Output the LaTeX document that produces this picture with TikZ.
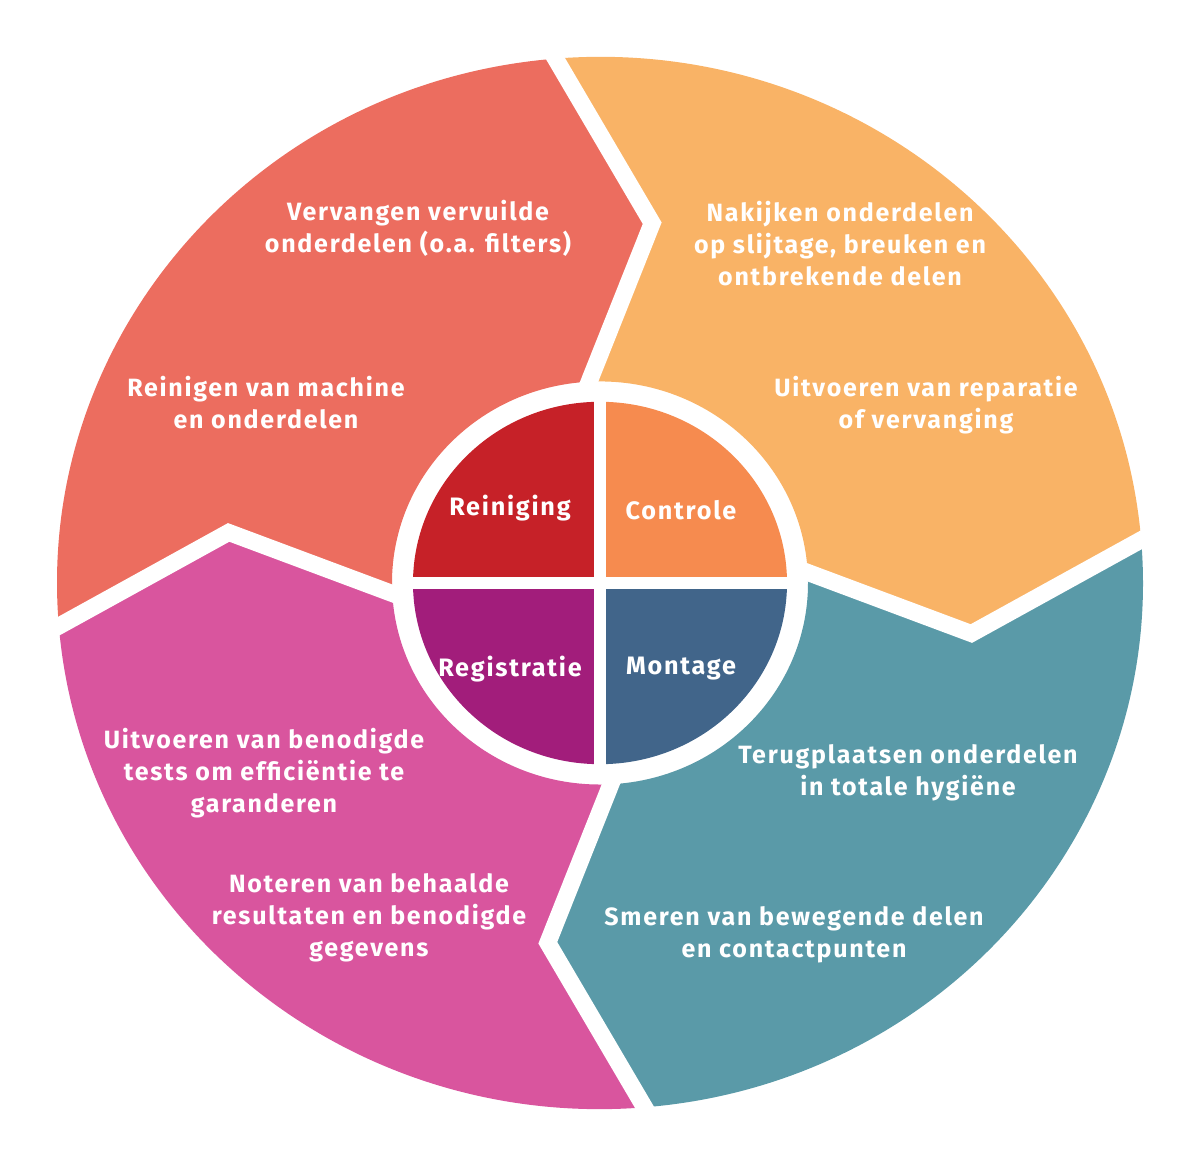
\documentclass[tikz,border=0pt]{standalone}
\usepackage{fontspec}
\setmainfont{Fira Sans}[LetterSpace=7]
\usetikzlibrary{calc,positioning}
\definecolor{segRed}{HTML}{EC6D5F}
\definecolor{segOrange}{HTML}{F9B366}
\definecolor{segTeal}{HTML}{5A9AA8}
\definecolor{segPink}{HTML}{D9559E}
\definecolor{qRed}{HTML}{C62128}
\definecolor{qOrange}{HTML}{F68B4F}
\definecolor{qPurple}{HTML}{A21D7B}
\definecolor{qBlue}{HTML}{41658A}
\tikzset{
  steptext/.style={text=white, font=\bfseries\fontsize{12.5}{16}\selectfont, align=center},
  quartertext/.style={text=white, font=\bfseries\fontsize{12.6}{16}\selectfont},
  gapline/.style={white, line width=8.5pt, line join=miter},
}
\begin{document}
\begin{tikzpicture}[x=0.5pt, y=0.5pt]
  \useasboundingbox (0,0) rectangle (1200,1165);

  \begin{scope}[shift={(600,582)}, yscale=0.969]
    % corners of the four borders
    \foreach \n/\a in {t/90, l/180, b/270, r/0} {
      \coordinate (o\n) at (\a+4.7:543);
      \coordinate (v\n) at (\a-8:375);
      \coordinate (i\n) at (\a+3:208);
    }

    % Reiniging
    \fill[segRed] (ot) arc[start angle=94.7, end angle=184.7, radius=543] -- (vl) -- (il)
      arc[start angle=183, end angle=93, radius=208] -- (vt) -- cycle;
    % Controle
    \fill[segOrange] (or) arc[start angle=4.7, end angle=94.7, radius=543] -- (vt) -- (it)
      arc[start angle=93, end angle=3, radius=208] -- (vr) -- cycle;
    % Montage
    \fill[segTeal] (ob) arc[start angle=274.7, end angle=364.7, radius=543] -- (vr) -- (ir)
      arc[start angle=363, end angle=273, radius=208] -- (vb) -- cycle;
    % Registratie
    \fill[segPink] (ol) arc[start angle=184.7, end angle=274.7, radius=543] -- (vb) -- (ib)
      arc[start angle=273, end angle=183, radius=208] -- (vl) -- cycle;

    % white borders
    \foreach \n in {t,l,b,r}
      \draw[gapline] ($(v\n)!1.08!(o\n)$) -- (v\n) -- ($(v\n)!1.15!(i\n)$);

    % centre
    \fill[qRed] (0,0) -- (90:187) arc[start angle=90, end angle=180, radius=187] -- cycle;
    \fill[qOrange] (0,0) -- (0:187) arc[start angle=0, end angle=90, radius=187] -- cycle;
    \fill[qPurple] (0,0) -- (180:187) arc[start angle=180, end angle=270, radius=187] -- cycle;
    \fill[qBlue] (0,0) -- (270:187) arc[start angle=270, end angle=360, radius=187] -- cycle;
    \draw[white, line width=6pt] (-200,0) -- (200,0) (0,-200) -- (0,200);
  \end{scope}

  % texts
  \node[steptext] (vervangen) at (418,937) {Vervangen vervuilde\\onderdelen (o.a. filters)};
  \node[steptext] (reinigen) at (266,762) {Reinigen van machine\\en onderdelen};
  \node[steptext] (nakijken) at (840,921) {Nakijken onderdelen\\op slijtage, breuken en\\ontbrekende delen};
  \node[steptext] (reparatie) at (926,760) {Uitvoeren van reparatie\\of vervanging};
  \node[steptext] (terug) at (908,392) {Terugplaatsen onderdelen\\in totale hygiëne};
  \node[steptext] (smeren) at (794,230) {Smeren van bewegende delen\\en contactpunten};
  \node[steptext] (tests) at (264,392) {Uitvoeren van benodigde\\tests om efficiëntie te\\garanderen};
  \node[steptext] (noteren) at (369,247) {Noteren van behaalde\\resultaten en benodigde\\gegevens};

  \node[quartertext] (reiniging) at (510,657) {Reiniging};
  \node[quartertext] (controle) at (681,655) {Controle};
  \node[quartertext] (registratie) at (510,496) {Registratie};
  \node[quartertext] (montage) at (681,496) {Montage};
\end{tikzpicture}
\end{document}
